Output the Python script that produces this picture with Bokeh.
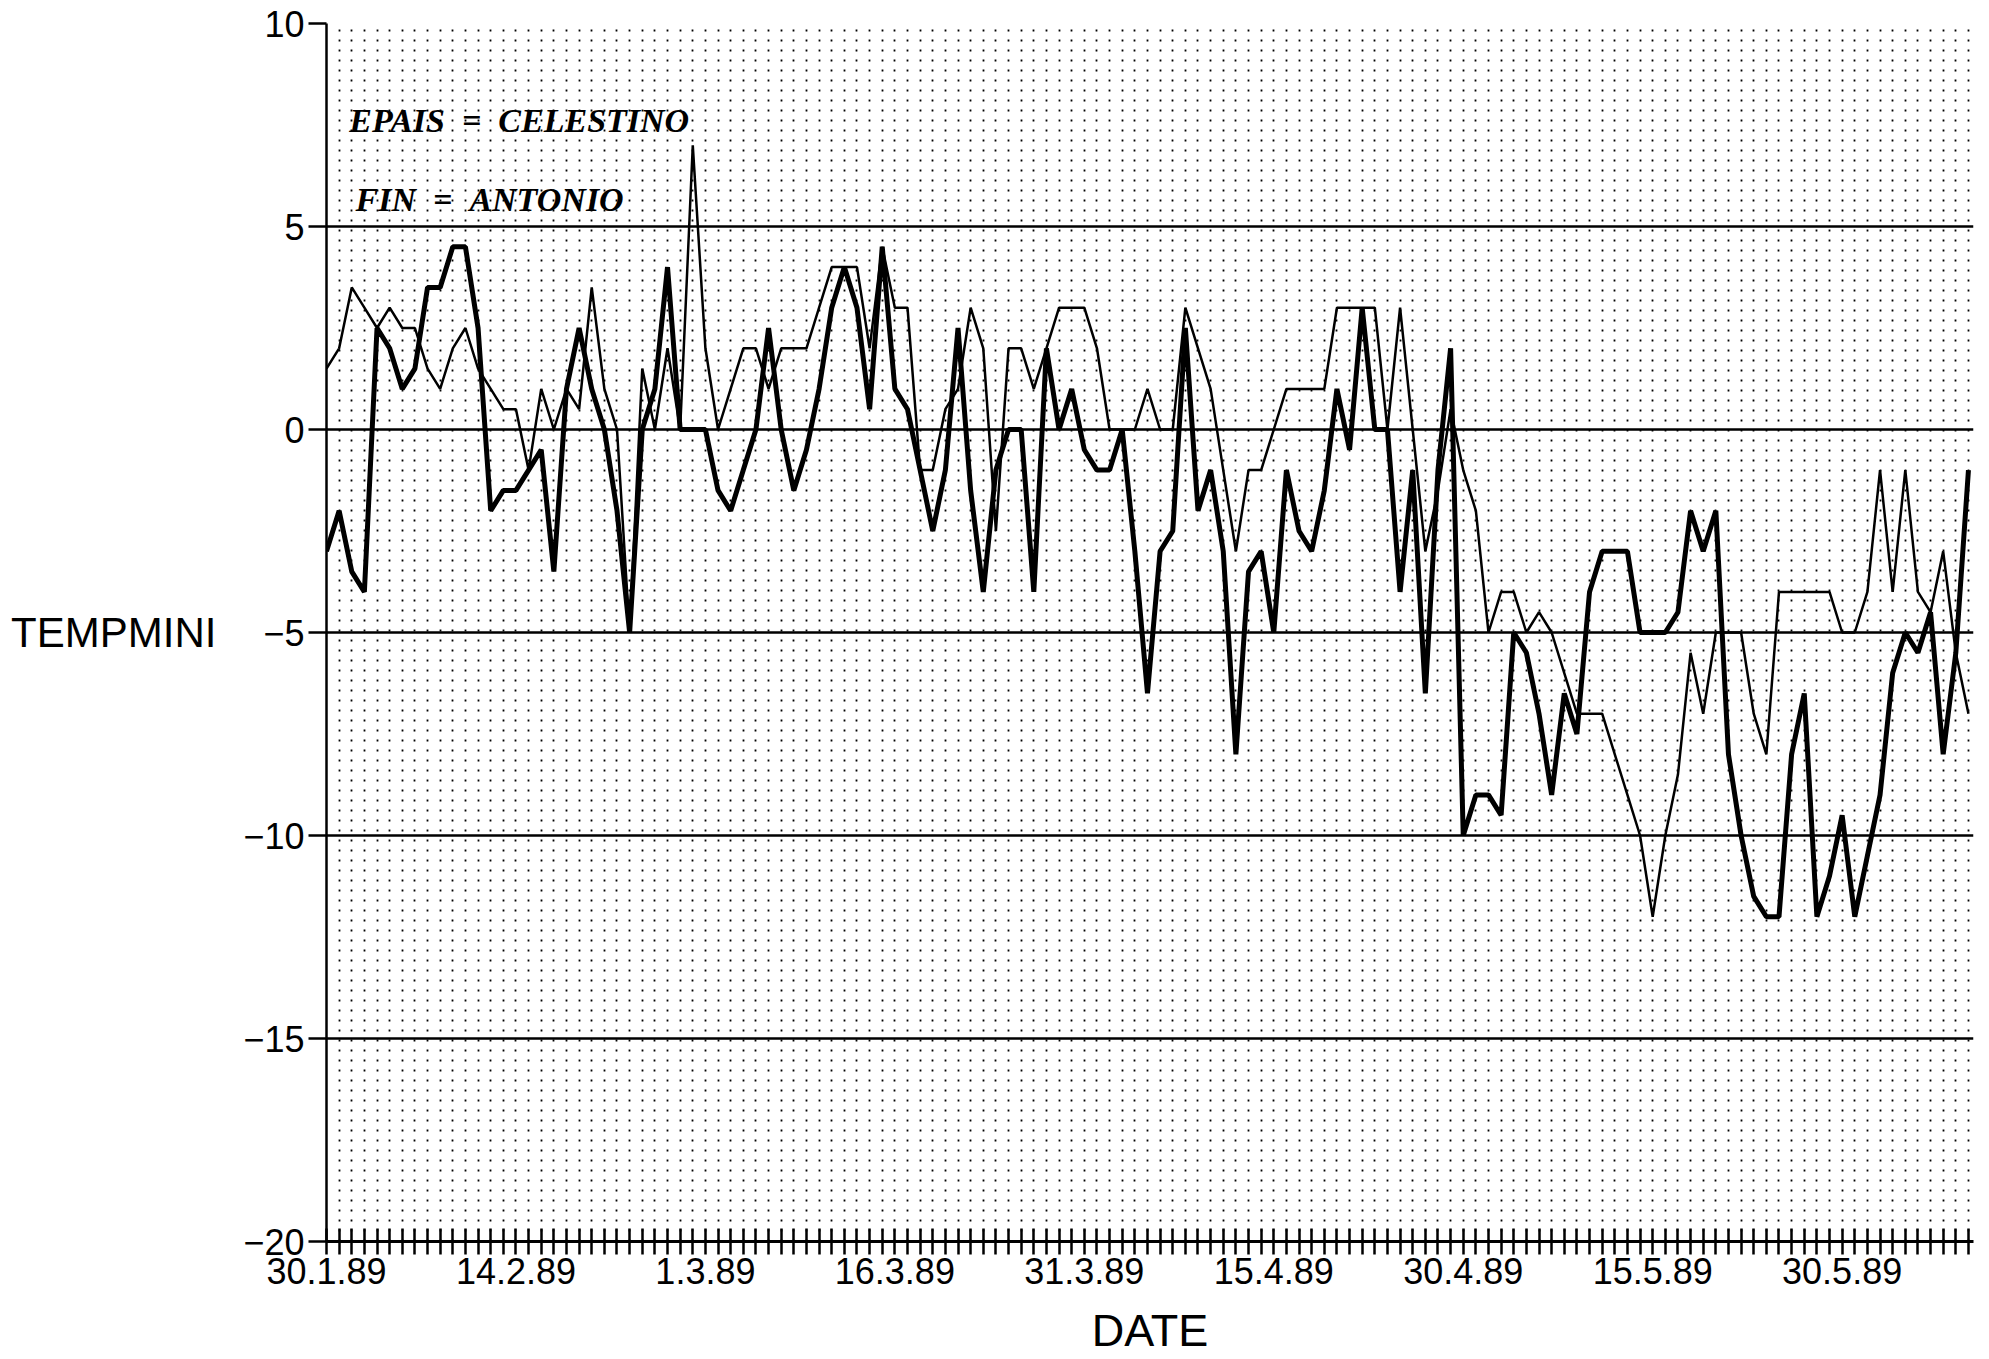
from bokeh.plotting import figure
from bokeh.models import Range1d, FixedTicker, Label
from bokeh.embed import file_html
from bokeh.resources import INLINE

# Daily minimum temperatures, day 0 = 30.1.89
days = list(range(131))

celestino = [
    -3, -2, -3.5, -4, 2.5, 2, 1, 1.5, 3.5, 3.5, 4.5, 4.5, 2.5, -2, -1.5, -1.5,
    -1, -0.5, -3.5, 1, 2.5, 1, 0, -2, -5, 0, 1, 4, 0, 0, 0, -1.5,
    -2, -1, 0, 2.5, 0, -1.5, -0.5,
    1, 3, 4, 3, 0.5, 4.5, 1, 0.5, -1, -2.5, -1, 2.5, -1.5, -4, -1, 0, 0, -4, 2,
    0, 1, -0.5, -1, -1, 0, -3, -6.5,
    -3, -2.5, 2.5, -2, -1, -3, -8, -3.5, -3, -5, -1, -2.5, -3, -1.5, 1, -0.5,
    3, 0, 0, -4, -1, -6.5, -1, 2, -10, -9, -9, -9.5, -5, -5.5, -7, -9, -6.5,
    -7.5, -4, -3, -3, -3, -5, -5, -5, -4.5, -2, -3, -2, -8, -10, -11.5, -12,
    -12, -8, -6.5, -12, -11, -9.5, -12, -10.5, -9, -6, -5, -5.5, -4.5, -8, -5.5, -1,
]

antonio = [
    1.5, 2, 3.5, 3, 2.5, 3, 2.5, 2.5, 1.5, 1, 2, 2.5, 1.5, 1, 0.5, 0.5,
    -1, 1, 0, 1, 0.5, 3.5, 1, 0, -5, 1.5, 0, 2, 0, 7, 2, 0,
    1, 2, 2, 1,
    2, 2, 2, 3, 4, 4, 4, 2, 4.5, 3, 3, -1, -1, 0.5, 1, 3, 2, -2.5, 2, 2, 1, 2,
    3, 3, 3, 2, 0, 0, 0, 1, 0, 0, 3,
    2, 1, -1, -3, -1, -1, 0, 1, 1, 1, 1, 3, 3, 3, 3, 0, 3, 0, -3, -1.5, 0.5,
    -1, -2, -5, -4, -4, -5, -4.5, -5, -6,
    -7, -7, -7, -8, -9, -10, -12, -10, -8.5, -5.5, -7, -5, -5, -5, -7, -8,
    -4, -4, -4, -4, -4, -5, -5, -4, -1, -4, -1, -4, -4.5, -3, -5.5, -7,
]

tick_days = [0, 15, 30, 45, 60, 75, 90, 105, 120]
tick_labels = ["30.1.89", "14.2.89", "1.3.89", "16.3.89", "31.3.89",
               "15.4.89", "30.4.89", "15.5.89", "30.5.89"]
y_ticks = [-20, -15, -10, -5, 0, 5, 10]
y_labels = ["\u221220", "\u221215", "\u221210", "\u22125", "0", "5", "10"]

sans = "Liberation Sans"

p = figure(width=1989, height=1359, output_backend="svg", toolbar_location=None,
           x_range=Range1d(0, 130.4), y_range=Range1d(-20, 10),
           min_border_left=326, min_border_right=16,
           min_border_top=23, min_border_bottom=118)
p.outline_line_color = None
p.background_fill_color = "white"
p.border_fill_color = "white"

# dotted vertical columns, one per day
p.xgrid.ticker = FixedTicker(ticks=days)
p.xgrid.grid_line_color = "black"
p.xgrid.grid_line_width = 1.8
p.xgrid.grid_line_dash = "2 8"

# solid horizontal rules every 5 degrees
p.ygrid.ticker = FixedTicker(ticks=y_ticks)
p.ygrid.grid_line_color = "black"
p.ygrid.grid_line_width = 2.5

xa = p.xaxis[0]
xa.ticker = FixedTicker(ticks=days)
overrides = {d: "" for d in days}
for d, lab in zip(tick_days, tick_labels):
    overrides[d] = lab
xa.major_label_overrides = overrides
xa.major_tick_in = 13
xa.major_tick_out = 13
xa.major_tick_line_width = 2.5
xa.major_tick_line_color = "black"
xa.axis_line_width = 3
xa.axis_line_color = "black"
xa.major_label_text_font = sans
xa.major_label_text_font_size = "36px"
xa.major_label_text_color = "black"
xa.major_label_standoff = 3
xa.axis_label = "DATE"
xa.axis_label_text_font = sans
xa.axis_label_text_font_style = "normal"
xa.axis_label_text_font_size = "45px"
xa.axis_label_text_color = "black"
xa.axis_label_standoff = 18

ya = p.yaxis[0]
ya.ticker = FixedTicker(ticks=y_ticks)
ya.major_label_overrides = {t: s for t, s in zip(y_ticks, y_labels)}
ya.major_tick_in = 0
ya.major_tick_out = 18
ya.major_tick_line_width = 2.5
ya.major_tick_line_color = "black"
ya.minor_tick_line_color = None
ya.axis_line_width = 2.5
ya.axis_line_color = "black"
ya.major_label_text_font = sans
ya.major_label_text_font_size = "36px"
ya.major_label_text_color = "black"
ya.major_label_standoff = 4
ya.axis_label = "TEMPMINI"
ya.axis_label_orientation = "horizontal"
ya.axis_label_text_font = sans
ya.axis_label_text_font_style = "normal"
ya.axis_label_text_font_size = "42px"
ya.axis_label_text_color = "black"
ya.axis_label_standoff = 24

p.line(days, antonio, line_color="black", line_width=2.5)
p.line(days, celestino, line_color="black", line_width=5)

nb = "\u00a0"
legend_font = "Liberation Serif"
p.add_layout(Label(x=1.8, y=7.6, text=f"EPAIS{nb}{nb}={nb}{nb}CELESTINO",
                   text_font=legend_font, text_font_style="bold italic",
                   text_font_size="34px", text_color="black",
                   text_align="left", text_baseline="middle"))
p.add_layout(Label(x=2.3, y=5.67, text=f"FIN{nb}{nb}={nb}{nb}ANTONIO",
                   text_font=legend_font, text_font_style="bold italic",
                   text_font_size="34px", text_color="black",
                   text_align="left", text_baseline="middle"))

open("out.html", "w").write(file_html(p, INLINE))
